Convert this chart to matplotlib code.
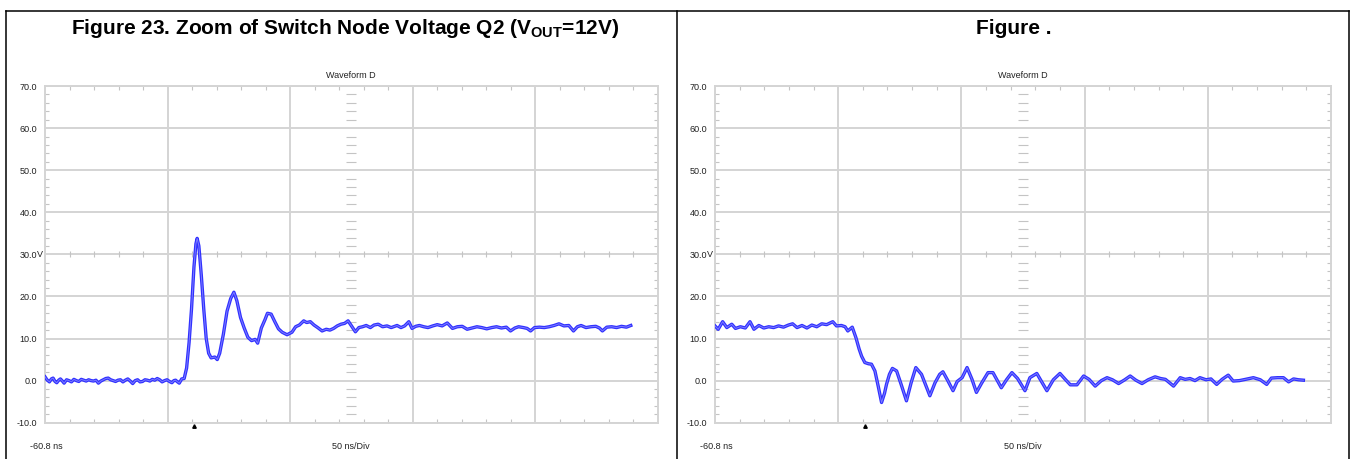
import matplotlib
matplotlib.use('Agg')
import matplotlib.pyplot as plt
import matplotlib.transforms as mtrans
from matplotlib.lines import Line2D
import numpy as np

plt.rcParams['font.family'] = ['Liberation Sans', 'DejaVu Sans']
plt.rcParams['mathtext.fontset'] = 'custom'
plt.rcParams['mathtext.rm'] = 'Liberation Sans'
plt.rcParams['mathtext.bf'] = 'Liberation Sans:bold'

# ---- data (time in ns, voltage in V) ----
t_rise = [-60.8, -60, -59, -58.2, -57.5, -56.7, -56, -55.2, -54.5, -53.7, -53, -52, -51,
          -50, -49, -48, -47, -46, -45, -44, -43, -42, -41, -40, -39, -38, -37, -36,
          -35, -34, -33, -32, -31, -30, -29, -28, -27, -26, -25, -24, -23, -22, -21, -20,
          -19, -18, -17, -16, -15, -14, -13, -12, -11, -10, -9, -8.2, -7.5, -6.7, -6,
          -5, -4, -3, -2, -1, 0, 0.8, 1.3, 2, 3, 4, 5, 6, 7, 8.5, 9.5, 10.5, 12, 13.5, 15,
          16.3, 17.5, 19, 20.5, 22, 23.5, 25, 26, 27.5, 29, 30, 31.5, 33, 34.5, 36, 38, 40,
          41.5, 43, 44.8, 46, 47.5, 49, 50.5, 52.3, 54, 55.5, 57, 58.5, 60, 61.5, 62.9,
          64.5, 65.9, 67.3, 68.8, 70.3, 72, 73.5, 75.2, 77, 78.8, 80.5, 82.9, 84.5, 86,
          87.7, 89, 90.5, 92, 93.8, 95.5, 97.5, 99.3, 101.3, 103.4, 105.5, 107.5, 109.5,
          111.5, 113.5, 115.5, 117.5, 119.5, 121.5, 123.5, 125.5, 127.5, 129.2, 131, 132.5,
          134.5, 136, 137.4, 139, 141, 143, 145, 147, 149, 151, 153, 154.9, 156.5, 158, 160,
          162, 164, 165.5, 166.7, 168.5, 170.5, 172.5, 174.5, 176.5, 178.3]
v_rise = [0.9, 0.2, -0.3, 0.4, 0.6, -0.2, -0.5, 0.1, 0.4, -0.1, -0.6, 0.2, 0.0,
          -0.3, 0.3, 0.0, -0.2, 0.3, 0.1, -0.1, 0.2, 0.0, -0.1, 0.1, -0.6, -0.1, 0.2, 0.5,
          0.6, 0.2, 0.0, -0.2, 0.1, 0.2, -0.3, 0.1, 0.4, -0.1, -0.7, 0.0, 0.2, -0.3, -0.2, 0.2,
          0.1, -0.1, 0.3, 0.1, 0.5, 0.2, -0.3, 0.0, 0.2, -0.2, -0.5, 0.0, 0.1, -0.3, -0.6,
          0.4, 0.5, 3.0, 9.0, 17.0, 27.0, 32.5, 33.8, 32.0, 25.0, 17.0, 10.0, 6.5, 5.4, 5.6,
          5.0, 6.5, 11.0, 16.5, 19.5, 21.0, 19.0, 15.0, 12.5, 10.3, 9.5, 9.8, 8.9, 12.5,
          14.5, 16.0, 15.8, 14.0, 12.3, 11.5, 10.9, 11.5, 12.8, 13.2, 14.2, 13.8, 14.0, 13.2,
          12.6, 11.8, 12.2, 12.0, 12.4, 13.0, 13.4, 13.6, 14.2, 12.8, 11.6, 12.6, 12.8, 13.1,
          12.6, 13.2, 13.4, 12.8, 13.0, 12.6, 13.1, 12.6, 13.0, 14.0, 12.4, 12.9, 13.1, 12.8,
          12.6, 13.0, 13.3, 13.0, 13.7, 12.4, 12.8, 12.9, 12.2, 12.5, 12.8, 12.6, 12.3, 12.6,
          12.8, 12.5, 12.7, 11.8, 12.5, 12.8, 12.6, 12.4, 11.8, 12.6, 12.7, 12.6, 12.8, 13.1,
          13.5, 13.0, 13.1, 11.8, 12.8, 13.1, 12.6, 12.8, 12.9, 12.5, 11.8, 12.7, 12.8, 12.6,
          12.9, 12.7, 13.1]

t_fall = [-60.8, -59.5, -57.7, -56, -54, -52.5, -50.5, -48.5, -46.6, -45, -43, -41, -39,
          -37, -35, -33, -31, -29.3, -27.5, -25.5, -23.5, -21.5, -19.5, -17.5, -15.5, -13,
          -11.5, -9.5, -8, -6.9, -5.1, -3.6, -2.3, -1.3, 0, 1.5, 2.7, 4.1, 5.5, 6.8, 8.0,
          8.8, 10, 11.2, 12.9, 14.8, 16.9, 18.8, 20.7, 23, 24.8, 26.4, 28.5, 30.4, 31.7,
          33.5, 35.8, 37.5, 39.5, 41.5, 43.5, 45.3, 47.5, 50, 52, 55.4, 57.5, 59.7, 62, 65,
          67, 69.8, 72, 73.9, 76.5, 79.2, 81.5, 83.4, 86.1, 88.8, 91, 93.5, 96, 98.3, 100.5,
          103, 105.5, 107.7, 110, 112.5, 115, 117.8, 120, 122, 125.3, 128, 130, 132, 134,
          136, 138.5, 140.5, 142.8, 145, 147.5, 149.5, 152, 154.5, 157.7, 160.5, 163.1, 165,
          167.5, 169.9, 172, 174, 176, 178]
v_fall = [13.0, 12.2, 14.0, 12.6, 13.4, 12.4, 12.8, 12.5, 14.0, 12.2, 13.1, 12.5, 12.8,
          12.6, 13.0, 12.7, 13.2, 13.5, 12.6, 13.1, 12.5, 13.2, 12.8, 13.5, 13.3, 14.0,
          13.0, 13.1, 12.8, 11.8, 12.7, 10.2, 7.5, 5.8, 4.3, 4.0, 3.9, 2.3, -1.5, -5.2, -3.0,
          -0.9, 1.5, 2.9, 2.3, -1.0, -4.8, -0.5, 3.1, 1.5, -1.2, -3.6, -0.5, 1.5, 2.1,
          0.2, -2.4, -0.2, 0.7, 3.1, 0.3, -2.8, -0.5, 1.9, 1.9, -1.7, 0.2, 1.9, 0.5, -2.4,
          0.7, 1.7, -0.5, -2.4, 0.2, 1.7, 0.2, -1.0, -1.0, 1.1, 0.3, -1.3, 0.0, 0.7, 0.2,
          -0.7, 0.2, 1.1, 0.1, -0.7, 0.2, 0.9, 0.5, 0.3, -1.3, 0.7, 0.3, 0.5, 0.0,
          0.7, 0.2, 0.4, -0.9, 0.3, 1.3, -0.1, 0.0, 0.3, 0.7, 0.2, -0.9, 0.6,
          0.7, 0.7, -0.3, 0.4, 0.2, 0.1]

panel_titles = [r'Figure 23. Zoom of Switch Node Voltage Q2 (V$_{\mathbf{OUT}}$=12V)', 'Figure .']
y_ticks = [-10, 0, 10, 20, 30, 40, 50, 60, 70]
y_labels = ['-10.0', '0.0', '10.0', '20.0', '30.0', '40.0', '50.0', '60.0', '70.0']
x_start = -60.8
ns_per_div = 50
n_div = 5

grid_c = '#d4d4d4'
tick_c = '#c4c4c4'
txt_c = '#222222'

fig = plt.figure(figsize=(13.51, 4.59), dpi=100)
ax_l = fig.add_axes([45 / 1351, 1 - 422.7 / 459, 612.5 / 1351, 336.7 / 459])
ax_r = fig.add_axes([715 / 1351, 1 - 422.7 / 459, 616 / 1351, 336.7 / 459])


def draw_panel(ax, t, v):
    x0 = x_start
    x1 = x_start + ns_per_div * n_div
    ax.set_xlim(x0, x1)
    ax.set_ylim(-10, 70)
    ax.set_xticks([x0 + ns_per_div * k for k in range(1, n_div)])
    ax.set_xticks(np.arange(x0 + 10, x1 - 1, 10), minor=True)
    ax.set_yticks(y_ticks)
    ax.set_yticklabels(y_labels)
    ax.set_yticks(np.arange(-8, 70, 2), minor=True)
    ax.grid(True, which='major', color=grid_c, lw=1.4)
    ax.set_axisbelow(True)
    ax.tick_params(which='major', length=0, labelbottom=False, pad=8 * 0.72,
                   labelsize=6.5, labelcolor=txt_c)
    ax.tick_params(which='minor', direction='in', length=3, width=0.8, color=tick_c,
                   top=True, right=True)
    for s in ax.spines.values():
        s.set_color(grid_c)
        s.set_linewidth(1.4)

    # centre column of small marks and ticks along the 30 V line
    cx = x0 + ns_per_div * n_div / 2
    ys = [y for y in np.arange(-8, 70, 2) if y % 10 != 0]
    ax.plot([cx] * len(ys), ys, ls='none', marker='_', ms=6.5, mew=0.8, color=tick_c, zorder=1)
    xs = [x for i, x in enumerate(np.arange(x0 + 10, x1 - 1, 10)) if (i + 1) % 5 != 0]
    ax.plot(xs, [30] * len(xs), ls='none', marker='|', ms=5, mew=0.8, color=tick_c, zorder=1)

    # waveform
    ax.plot(t, v, color='#3030ff', lw=2.4, solid_joinstyle='round', zorder=3)
    ax.plot(t, v, color='#7c7cff', lw=0.7, zorder=4)

    # trigger marker
    tr = mtrans.offset_copy(ax.transData, fig=fig, y=-3, units='dots')
    ax.plot([0], [-10], marker='^', ms=2.5, color='k', ls='none', clip_on=False, transform=tr)

    # labels
    ax.annotate('V', xy=(0, 30), xycoords=('axes fraction', 'data'), xytext=(-8 * 0.72, 0),
                textcoords='offset points', ha='left', va='center', fontsize=6.5, color=txt_c)
    ax.annotate('Waveform D', xy=(0.5, 1), xycoords='axes fraction', xytext=(0, 10 * 0.72),
                textcoords='offset points', ha='center', va='center', fontsize=6.5, color=txt_c)
    ax.annotate('-60.8 ns', xy=(0, 0), xycoords='axes fraction', xytext=(-15 * 0.72, -24 * 0.72),
                textcoords='offset points', ha='left', va='center', fontsize=6.5, color=txt_c)
    ax.annotate('50 ns/Div', xy=(0.5, 0), xycoords='axes fraction', xytext=(0, -24 * 0.72),
                textcoords='offset points', ha='center', va='center', fontsize=6.5, color=txt_c)


draw_panel(ax_l, t_rise, v_rise)
draw_panel(ax_r, t_fall, v_fall)

# titles and frame of the two panels
fig.text(345 / 1351, 1 - 29 / 459, panel_titles[0], ha='center', va='center',
         fontsize=15, fontweight='bold')
fig.text(1014 / 1351, 1 - 29 / 459, panel_titles[1], ha='center', va='center',
         fontsize=15, fontweight='bold')

top = 1 - 10.5 / 459
for xx in [6 / 1351, 677.3 / 1351, 1349.3 / 1351]:
    fig.add_artist(Line2D([xx, xx], [0, top], color='k', lw=1.1, transform=fig.transFigure))
fig.add_artist(Line2D([6 / 1351, 1349.3 / 1351], [top, top], color='k', lw=1.1,
                      transform=fig.transFigure))

fig.savefig('out.png', dpi=100)
